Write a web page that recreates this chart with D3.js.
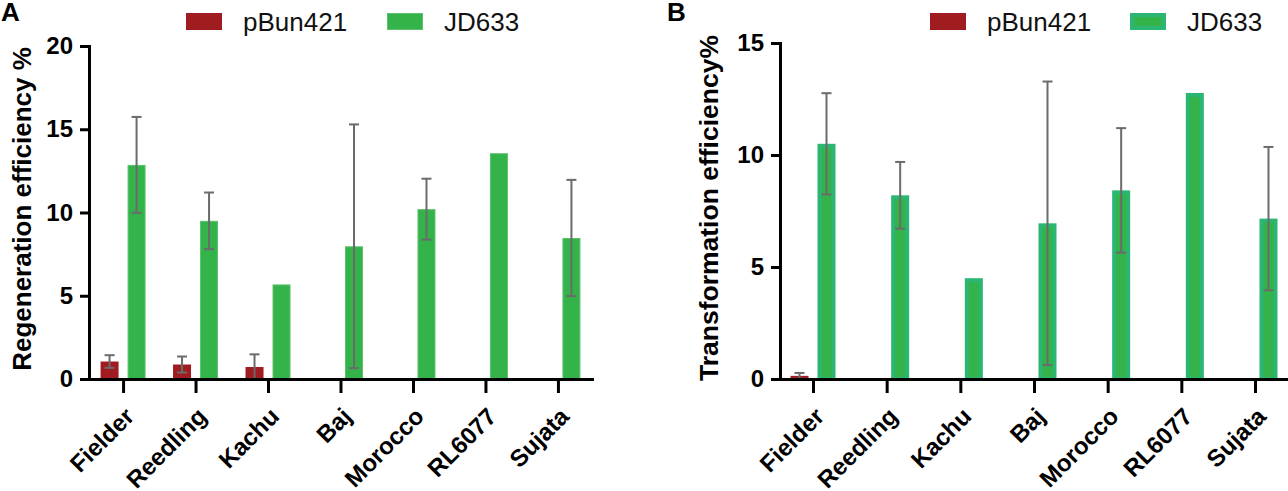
<!DOCTYPE html>
<html>
<head>
<meta charset="utf-8">
<script src="https://cdn.jsdelivr.net/npm/d3@7"></script>
<style>
    html, body { margin: 0; padding: 0; background: #fff; }
    svg { display: block; font-family: "Liberation Sans", Arial, sans-serif; }
</style>
</head>
<body>
<svg id="chart" width="1288" height="491"></svg>
<script>
var categories = ["Fielder", "Reedling", "Kachu", "Baj", "Morocco", "RL6077", "Sujata"];
var seriesNames = ["pBun421", "JD633"];

// panel A - regeneration efficiency (mean, error)
var regenPBun = [1.05, 0.87, 0.72, 0, 0, 0, 0];
var regenPBunErr = [0.38, 0.48, 0.76, null, null, null, null];
var regenJD = [12.86, 9.5, 5.68, 7.97, 10.2, 13.56, 8.47];
var regenJDErr = [2.88, 1.7, null, 7.32, 1.83, null, 3.49];
var regenTicks = [0, 5, 10, 15, 20];

// panel B - transformation efficiency (mean, error)
var transPBun = [0.14, 0, 0, 0, 0, 0, 0];
var transPBunErr = [0.13, null, null, null, null, null, null];
var transJD = [10.5, 8.2, 4.5, 6.95, 8.42, 12.77, 7.16];
var transJDErr = [2.26, 1.49, null, 6.33, 2.78, null, 3.2];
var transTicks = [0, 5, 10, 15];

(function () {
    var svg = d3.select('#chart'),
        base = 379,
        red = '#a01c20',
        green = '#33b34a';

    drawPanel({
        letter: 'A', letterX: 1,
        left: 89, right: 592, pad: 0.47,
        max: 20, top: 46, ticks: regenTicks,
        values: [regenPBun, regenJD], errors: [regenPBunErr, regenJDErr],
        fills: [red, green], strokes: [red, '#5cc26c'], strokeWidths: [0, 1],
        title: 'Regeneration efficiency %', titleX: 31, titleY: 209, titleSize: 26,
        legendX: [186, 387]
    });

    drawPanel({
        letter: 'B', letterX: 667,
        left: 780, right: 1288, pad: 0.448,
        max: 15, top: 43, ticks: transTicks,
        values: [transPBun, transJD], errors: [transPBunErr, transJDErr],
        fills: [red, green], strokes: [red, '#2bb673'], strokeWidths: [0, 4],
        title: 'Transformation efficiency%', titleX: 718, titleY: 208, titleSize: 26.5,
        legendX: [930, 1130]
    });

    function drawPanel(p) {
        var x = d3.scalePoint().domain(categories).range([p.left, p.right]).padding(p.pad);
        var sub = d3.scaleBand().domain(seriesNames).range([-22.5, 22.5]).paddingInner(1 / 3);
        var y = d3.scaleLinear().domain([0, p.max]).range([base, p.top]);
        var g = svg.append('g');

        seriesNames.forEach(function (name, si) {
            var sw = p.strokeWidths[si], inset = sw / 2;
            var rows = categories.map(function (c, i) {
                return {c: c, v: p.values[si][i], e: p.errors[si][i]};
            });

            g.append('g')
                .selectAll('rect')
                .data(rows.filter(function (d) { return d.v > 0; }))
                .enter().append('rect')
                .attr('x', function (d) { return x(d.c) + sub(name) + inset; })
                .attr('width', sub.bandwidth() - sw)
                .attr('y', function (d) { return y(d.v) + inset; })
                .attr('height', function (d) { return y(0) - y(d.v) - inset; })
                .style('fill', p.fills[si])
                .style('stroke', sw ? p.strokes[si] : 'none')
                .style('stroke-width', sw);

            // error bars
            var eb = g.append('g')
                .selectAll('g')
                .data(rows.filter(function (d) { return d.e != null; }))
                .enter().append('g')
                .attr('transform', function (d) {
                    return 'translate(' + (x(d.c) + sub(name) + sub.bandwidth() / 2) + ',0)';
                })
                .style('stroke', '#6b6b6b')
                .style('stroke-width', 2);
            eb.append('line')
                .attr('y1', function (d) { return y(Math.max(0, d.v - d.e)); })
                .attr('y2', function (d) { return y(d.v + d.e); });
            eb.append('line')
                .attr('x1', -5).attr('x2', 5)
                .attr('y1', function (d) { return y(d.v + d.e); })
                .attr('y2', function (d) { return y(d.v + d.e); });
            eb.append('line')
                .attr('x1', -5).attr('x2', 5)
                .attr('y1', function (d) { return y(Math.max(0, d.v - d.e)); })
                .attr('y2', function (d) { return y(Math.max(0, d.v - d.e)); });

            // legend
            var lx = p.legendX[si];
            g.append('rect')
                .attr('x', lx + inset).attr('y', 13 + inset)
                .attr('width', 36 - sw).attr('height', 17 - sw)
                .style('fill', p.fills[si])
                .style('stroke', sw ? p.strokes[si] : 'none')
                .style('stroke-width', sw);
            g.append('text')
                .attr('x', lx + 57).attr('y', 31)
                .style('font-size', '26px')
                .style('fill', '#111')
                .text(name);
        });

        // axes
        var yg = g.append('g')
            .attr('transform', 'translate(' + p.left + ',0)')
            .call(d3.axisLeft(y).tickValues(p.ticks).tickSize(9).tickSizeOuter(0).tickPadding(7));
        var xg = g.append('g')
            .attr('transform', 'translate(0,' + base + ')')
            .call(d3.axisBottom(x).tickSize(14).tickSizeOuter(0));

        [yg, xg].forEach(function (ax) {
            ax.select('.domain').style('stroke', '#000').style('stroke-width', 3).style('stroke-linecap', 'square');
            ax.selectAll('.tick line').style('stroke', '#000').style('stroke-width', 3);
            ax.selectAll('.tick text')
                .style('font-size', '24px')
                .style('font-weight', 'bold')
                .style('fill', '#000');
            ax.attr('font-family', null).attr('font-size', null);
        });

        xg.selectAll('.tick text')
            .attr('text-anchor', 'end')
            .attr('y', null)
            .attr('dy', null)
            .attr('transform', 'translate(12,39) rotate(-45)');

        // titles
        g.append('text')
            .attr('transform', 'translate(' + p.titleX + ',' + p.titleY + ') rotate(-90)')
            .attr('text-anchor', 'middle')
            .style('font-size', p.titleSize + 'px')
            .style('font-weight', 'bold')
            .text(p.title);

        g.append('text')
            .attr('x', p.letterX).attr('y', 21)
            .style('font-size', '26px')
            .style('font-weight', 'bold')
            .text(p.letter);
    }
}());
</script>
</body>
</html>
